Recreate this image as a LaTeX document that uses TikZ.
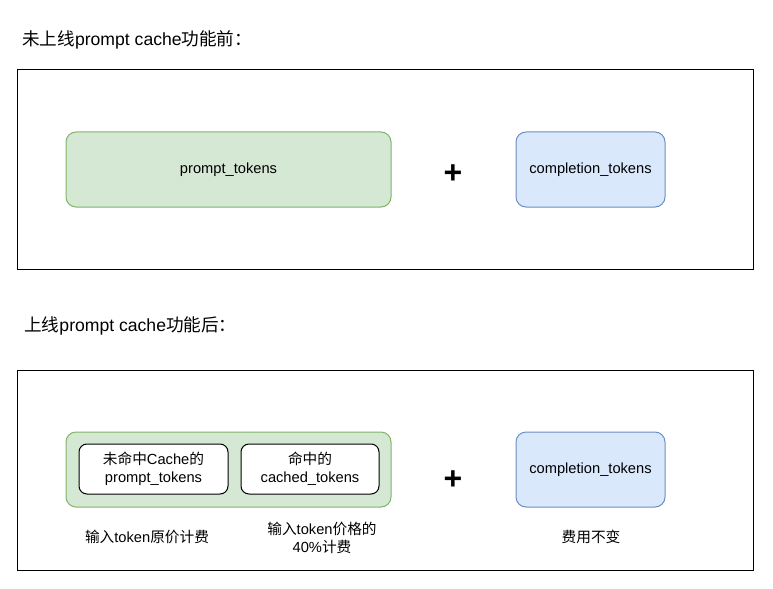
\documentclass[tikz,border=0pt]{standalone}
\usepackage{fontspec}
\setmainfont{Liberation Sans}
\newfontfamily\cjk{Noto Sans CJK SC}
\newcommand{\zh}[1]{{\cjk #1}}
\begin{document}
\begin{tikzpicture}[x=0.75pt,y=-0.75pt,
  frame/.style={draw=black, line width=0.75pt},
  greenbox/.style={draw=gstroke, fill=gfill, rounded corners=7.5pt, line width=0.75pt},
  bluebox/.style={draw=bstroke, fill=bfill, rounded corners=7.5pt, line width=0.75pt},
  whitebox/.style={draw=black, fill=white, rounded corners=6pt, line width=0.75pt},
  lbl/.style={font=\fontsize{11}{13.5}\selectfont, align=center},
  ttl/.style={font=\fontsize{13.2}{16}\selectfont, anchor=west, inner sep=0pt},
  plus/.style={font=\fontsize{24}{24}\selectfont\bfseries, inner sep=0pt}]
\definecolor{gfill}{HTML}{D5E8D4}
\definecolor{gstroke}{HTML}{82B366}
\definecolor{bfill}{HTML}{DAE8FC}
\definecolor{bstroke}{HTML}{6C8EBF}
\useasboundingbox (0,0) rectangle (773,588);
% titles
\node[ttl] (t1) at (22,40) {\zh{未上线}prompt cache\zh{功能前：}};
\node[ttl] (t2) at (24,326) {\zh{上线}prompt cache\zh{功能后：}};
% frames
\draw[frame] (17,70) rectangle (753,269);
\draw[frame] (17,370) rectangle (753,570);
% top row
\node[lbl, greenbox, minimum width=325*0.75pt, minimum height=75*0.75pt] (pt) at (228.5,169.5) {prompt\_tokens};
\node[plus] (p1) at (453,174) {+};
\node[lbl, bluebox, minimum width=149*0.75pt, minimum height=75*0.75pt] (ct1) at (590.5,169.5) {completion\_tokens};
% bottom row
\node[greenbox, minimum width=325*0.75pt, minimum height=75*0.75pt] (g2) at (228.5,469.5) {};
\node[lbl, whitebox, minimum width=149*0.75pt, minimum height=50*0.75pt] (w1) at (153.5,469) {\zh{未命中}Cache\zh{的}\\prompt\_tokens};
\node[lbl, whitebox, minimum width=138*0.75pt, minimum height=50*0.75pt] (w2) at (310,469) {\zh{命中的}\\cached\_tokens};
\node[plus] (p2) at (453,480) {+};
\node[lbl, bluebox, minimum width=149*0.75pt, minimum height=75*0.75pt] (ct2) at (590.5,469.5) {completion\_tokens};
% notes
\node[lbl] (n1) at (147,537) {\zh{输入}token\zh{原价计费}};
\node[lbl] (n2) at (322,538) {\zh{输入}token\zh{价格的}\\40\%\zh{计费}};
\node[lbl] (n3) at (591,537) {\zh{费用不变}};
\end{tikzpicture}
\end{document}
